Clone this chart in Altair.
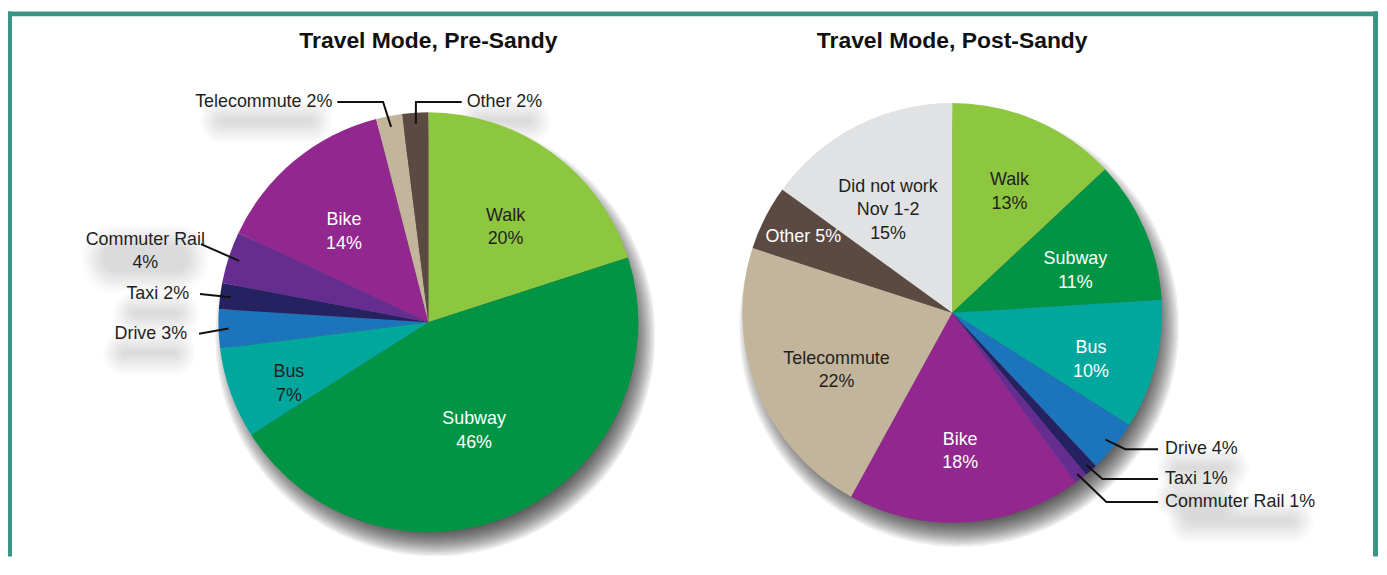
import math
import altair as alt
import pandas as pd

# ------------------------------------------------------------------ data
pre_modes = ["Walk", "Subway", "Bus", "Drive", "Taxi", "Commuter Rail",
             "Bike", "Telecommute", "Other"]
pre_share = [20, 46, 7, 3, 2, 4, 14, 2, 2]

post_modes = ["Walk", "Subway", "Bus", "Drive", "Taxi", "Commuter Rail",
              "Bike", "Telecommute", "Other", "Did not work Nov 1-2"]
post_share = [13, 11, 10, 4, 1, 1, 18, 22, 5, 15]

titles = ["Travel Mode, Pre-Sandy", "Travel Mode, Post-Sandy"]

mode_domain = ["Walk", "Subway", "Bus", "Drive", "Taxi", "Commuter Rail",
               "Bike", "Telecommute", "Other", "Did not work Nov 1-2"]
mode_colors = ["#8DC63F", "#009444", "#00A79D", "#1C75BC", "#262262",
               "#662D91", "#92278F", "#C2B59B", "#5B4A42", "#E1E2E3"]

# ------------------------------------------------------------------ layout / style
W, H = 1378, 550
R = 211
FONT = "Liberation Sans"
DARK = "#231F20"
WHITE = "#FFFFFF"
FRAME = "#3A9585"
CHAR_W = 9.5  # approx. glyph width at 18px, used only for label shadow blobs

pies = [
    dict(cx=422.5, cy=314.5, title_y=32,
         inside={"Walk": (132, DARK, "two"), "Subway": (108, WHITE, "two"),
                 "Bus": (149, DARK, "two"), "Bike": (133, WHITE, "two")},
         outside={"Telecommute": (200, (-45.5, -221.5), (-91.5, -221.5), (-96.5, -221.5), "right", "one"),
                  "Other": (200, (-12.5, -221.5), (33.5, -221.5), (38.5, -221.5), "left", "one"),
                  "Commuter Rail": (200, None, (-228.5, -78.5), (-284.5, -83.0), "center", "two"),
                  "Taxi": (200, None, (-229.5, -28.5), (-240.5, -28.0), "right", "one"),
                  "Drive": (201, None, (-230.5, 11.5), (-242.5, 11.5), "right", "one")}),
    dict(cx=949.0, cy=305.0, title_y=32,
         inside={"Walk": (145, DARK, "two"), "Subway": (135, WHITE, "two"),
                 "Bus": (144, WHITE, "two"), "Bike": (128, WHITE, "two"),
                 "Telecommute": (125, DARK, "two"), "Other": (168, WHITE, "one"),
                 "Did not work Nov 1-2": (142, DARK, "dnw")},
         outside={"Drive": (200, (174, 137), (207, 137), (214, 137), "left", "one"),
                  "Taxi": (204, (151, 167), (207, 167), (214, 167), "left", "one"),
                  "Commuter Rail": (205, (155, 190), (207, 190), (214, 190), "left", "one")}),
]


def fmt_label(mode, share, kind):
    if kind == "one":
        return f"{mode} {share}%"
    if kind == "dnw":
        return f"Did not work\nNov 1-2\n{share}%"
    return f"{mode}\n{share}%"


xs = alt.Scale(domain=[0, W], nice=False, zero=False)
ys = alt.Scale(domain=[0, H], nice=False, zero=False, reverse=True)
theta_scale = alt.Scale(domain=[0, 100])
color_scale = alt.Scale(domain=mode_domain, range=mode_colors)

one = pd.DataFrame({"k": [0]})
shadow_layers = []
pie_layers = []

# soft drop shadows under pies: stacked translucent discs offset down-right
for p in pies:
    for k in range(13):
        r = R - 14 + 2 * k
        shadow_layers.append(
            alt.Chart(one).mark_arc(outerRadius=r, fill="#000000", opacity=0.072).encode(
                theta=alt.value(0),
                theta2=alt.value(2 * math.pi),
                x=alt.value(p["cx"] + 7),
                y=alt.value(p["cy"] + 14),
            )
        )

line_rows = []
ext_rows = []
for pi, (p, modes, shares) in enumerate(zip(pies, [pre_modes, post_modes], [pre_share, post_share])):
    rows = []
    lab_rows = []
    cum = 0
    for i, (m, s) in enumerate(zip(modes, shares)):
        mid_pct = cum + s / 2
        mid = mid_pct / 100 * 2 * math.pi
        cum += s
        rows.append({"mode": m, "share": s, "idx": i})
        if m in p["inside"]:
            lr, tc, kind = p["inside"][m]
            lab_rows.append({"mid": mid_pct, "label": fmt_label(m, s, kind), "lr": lr, "tc": tc})
        if m in p["outside"]:
            r0, elbow, end, tpos, align, kind = p["outside"][m]
            pts = [(p["cx"] + r0 * math.sin(mid), p["cy"] - r0 * math.cos(mid))]
            if elbow is not None:
                pts.append((p["cx"] + elbow[0], p["cy"] + elbow[1]))
            pts.append((p["cx"] + end[0], p["cy"] + end[1]))
            for q, (x, y) in enumerate(pts):
                line_rows.append({"id": f"{pi}-{m}", "seq": q, "x": x, "y": y})
            ext_rows.append({"x": p["cx"] + tpos[0], "y": p["cy"] + tpos[1],
                             "text": fmt_label(m, s, kind), "align": align})
    arc = alt.Chart(pd.DataFrame(rows)).mark_arc(outerRadius=R, stroke=None).encode(
        theta=alt.Theta("share:Q", stack=True, scale=theta_scale),
        order=alt.Order("idx:Q"),
        color=alt.Color("mode:N", scale=color_scale, legend=None),
        x=alt.value(p["cx"]),
        y=alt.value(p["cy"]),
    )
    txt = alt.Chart(pd.DataFrame(lab_rows)).mark_text(
        font=FONT, fontSize=18, lineBreak="\n", lineHeight=23.5,
        align="center", baseline="middle").encode(
        theta=alt.Theta("mid:Q", stack=None, scale=theta_scale),
        radius=alt.Radius("lr:Q", scale=None),
        text=alt.Text("label:N"),
        fill=alt.Fill("tc:N", scale=None),
        x=alt.value(p["cx"]),
        y=alt.value(p["cy"]),
    )
    pie_layers += [arc, txt]

# faint blurred shadows beneath the outside labels (soft pills)
blob_rows = []
for e in ext_rows:
    lines_ = e["text"].split("\n")
    full_w = max(len(s) for s in lines_) * CHAR_W
    w = full_w * 0.7
    h = 4 + 23.5 * (len(lines_) - 1)
    if e["align"] == "right":
        cxb = e["x"] - full_w / 2
    elif e["align"] == "left":
        cxb = e["x"] + full_w / 2
    else:
        cxb = e["x"]
    cyb = e["y"] + 19
    for k in range(9):
        g = 2.5 * k
        blob_rows.append({"x1": cxb - w / 2 - g, "x2": cxb + w / 2 + g,
                          "y1": cyb - h / 2 - g, "y2": cyb + h / 2 + g})
blobs = alt.Chart(pd.DataFrame(blob_rows)).mark_rect(
    cornerRadius=30, fill="#000000", opacity=0.014
).encode(
    x=alt.X("x1:Q", scale=xs, axis=None), x2="x2:Q",
    y=alt.Y("y1:Q", scale=ys, axis=None), y2="y2:Q",
)

layers = [blobs] + shadow_layers + pie_layers

# leader lines
lines = alt.Chart(pd.DataFrame(line_rows)).mark_line(color="#111111", strokeWidth=2).encode(
    x=alt.X("x:Q", scale=xs, axis=None),
    y=alt.Y("y:Q", scale=ys, axis=None),
    detail="id:N",
    order="seq:Q",
)
layers.append(lines)

ext_df = pd.DataFrame(ext_rows)
for al in ["left", "right", "center"]:
    sub = ext_df[ext_df["align"] == al]
    if len(sub) == 0:
        continue
    layers.append(
        alt.Chart(sub).mark_text(font=FONT, fontSize=18, color=DARK, align=al,
                                 baseline="middle", lineBreak="\n", lineHeight=23.5).encode(
            x=alt.X("x:Q", scale=xs, axis=None),
            y=alt.Y("y:Q", scale=ys, axis=None),
            text="text:N",
        )
    )

# titles
title_df = pd.DataFrame({"x": [p["cx"] for p in pies], "y": [p["title_y"] for p in pies], "t": titles})
layers.append(
    alt.Chart(title_df).mark_text(font=FONT, fontSize=23, fontWeight="bold", color="#111111",
                                  align="center", baseline="middle").encode(
        x=alt.X("x:Q", scale=xs, axis=None),
        y=alt.Y("y:Q", scale=ys, axis=None),
        text="t:N",
    )
)

# frame (top, left, right)
layers.append(alt.Chart(one).mark_rule(color=FRAME, strokeWidth=5).encode(
    x=alt.value(0), x2=alt.value(1377), y=alt.value(4.5)))
layers.append(alt.Chart(one).mark_rule(color=FRAME, strokeWidth=4).encode(
    x=alt.value(2), y=alt.value(2), y2=alt.value(H)))
layers.append(alt.Chart(one).mark_rule(color=FRAME, strokeWidth=5).encode(
    x=alt.value(1374.5), y=alt.value(2), y2=alt.value(H)))

chart = alt.layer(*layers).properties(
    width=W, height=H, autosize="none", padding=0, background="#FFFFFF"
).configure_view(stroke=None)

chart.save("out.html", embed_options={"renderer": "svg", "actions": False})
